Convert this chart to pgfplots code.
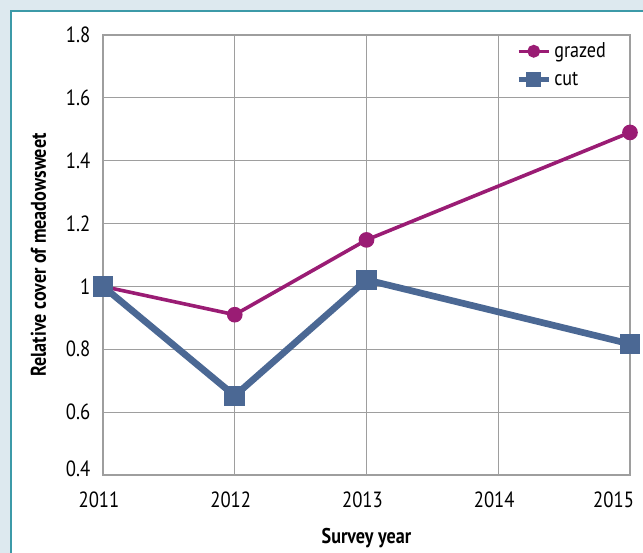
\documentclass[border=0pt]{standalone}
\usepackage{pgfplots}
\pgfplotsset{compat=1.18}
\usepackage{fontspec}
\setmainfont[FakeStretch=0.85]{PT Sans}
\definecolor{bgc}{HTML}{DDE9EF}
\definecolor{panelb}{HTML}{3C9AA8}
\definecolor{grz}{HTML}{9A1C74}
\definecolor{cutc}{HTML}{4B6894}
\definecolor{gridc}{HTML}{9E9E9E}
\begin{document}
\begin{tikzpicture}
\useasboundingbox (0pt,0pt) rectangle (482.25pt,414.75pt);
\fill[bgc] (0pt,0pt) rectangle (482.25pt,414.75pt);
\fill[white] (8.25pt,0pt) rectangle (482.25pt,406.5pt);
\draw[panelb,line width=1.2pt] (8.25pt,0pt) -- (8.25pt,406.5pt) -- (482.25pt,406.5pt);
\begin{axis}[
  at={(77.25pt,58.5pt)}, anchor=south west,
  scale only axis, width=395.25pt, height=330pt,
  xmin=2011, xmax=2015, ymin=0.4, ymax=1.8,
  xtick={2011,2012,2013,2014,2015},
  xticklabels={2011,2012,2013,2014,{\kern12pt\makebox[0pt][r]{2015}}},
  ytick={0.4,0.6,0.8,1,1.2,1.4,1.6,1.8},
  yticklabels={{\raisebox{9pt}{0.4}},0.6,0.8,1,1.2,1.4,1.6,1.8},
  grid=major,
  grid style={gridc, line width=0.8pt},
  axis line style={gridc, line width=1.2pt},
  tick style={draw=none},
  ticklabel style={font=\fontsize{16.5}{18}\selectfont},
  xticklabel style={yshift=-9pt, xshift=-3pt},
  yticklabel style={xshift=-6pt},
  xlabel={\textbf{Survey year}},
  ylabel={\textbf{Relative cover of meadowsweet}},
  label style={font=\fontsize{16}{18}\selectfont\bfseries},
  xlabel style={yshift=-8.5pt},
  ylabel style={yshift=8pt},
  clip=false,
  legend style={at={(0.965,0.995)}, anchor=north east, draw=none, fill=white,
    font=\fontsize{16}{18}\selectfont, row sep=5pt, inner sep=2pt},
  legend cell align=left,
  legend image code/.code={
    \draw[#1, mark repeat=2, mark phase=2] plot coordinates {(0cm,0cm) (0.4cm,0cm) (0.8cm,0cm)};
  },
]
\addplot[grz, line width=2.7pt, mark=*, mark size=4.5pt,
  legend image post style={line width=2.4pt, mark size=3.6pt}] coordinates {
  (2011,1.0) (2012,0.91) (2013,1.148) (2015,1.49)};
\addlegendentry{grazed}
\addplot[cutc, line width=5pt, mark=square*, mark size=5.2pt,
  legend image post style={line width=4pt, mark size=3.6pt}] coordinates {
  (2011,1.0) (2012,0.652) (2013,1.021) (2015,0.817)};
\addlegendentry{cut}
\end{axis}
\end{tikzpicture}
\end{document}
